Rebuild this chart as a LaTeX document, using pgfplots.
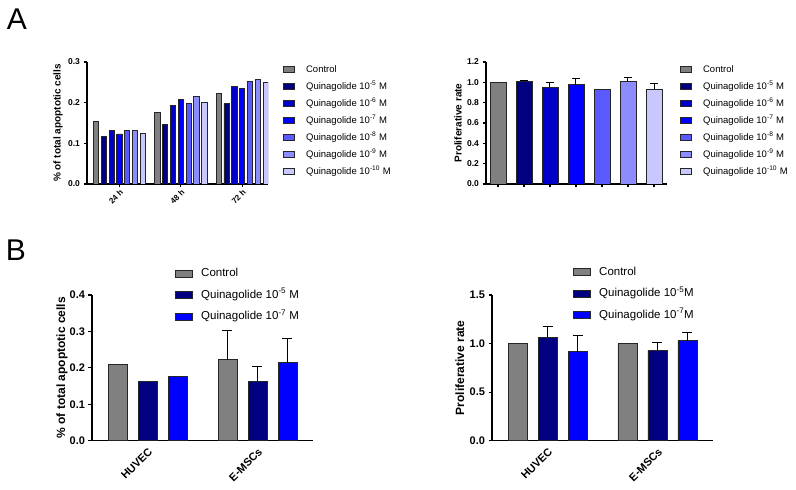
\documentclass[border=0pt]{standalone}
\usepackage{fontspec}
\setmainfont{Liberation Sans}
\usepackage{pgfplots}
\pgfplotsset{compat=1.18}

\definecolor{cctrl}{HTML}{808080}
\definecolor{cq5}{HTML}{000080}
\definecolor{cq6}{HTML}{0000C8}
\definecolor{cq7}{HTML}{0000FF}
\definecolor{cq8}{HTML}{5A5AFF}
\definecolor{cq9}{HTML}{8C8CFF}
\definecolor{cq10}{HTML}{C8C8FF}
\definecolor{edge}{HTML}{262626}

\pgfplotsset{
  /pgf/number format/assume math mode=true,
  prism/.style={
    scale only axis, anchor=south west,
    axis x line*=bottom, axis y line*=left,
    axis line style={line width=1.2pt, black},
    tick style={line width=1.1pt, black},
    major tick length=3.5pt, tick align=outside,
    enlargelimits=false, ymin=0,
    legend cell align=left,
    legend image code/.code={\draw[##1,/tikz/.cd] (0pt,-3pt) rectangle (11pt,3pt);},
    legend style={draw=none, fill=none, anchor=north west, inner sep=0pt},
  },
  pbar/.style={ybar, draw=edge, line width=0.9pt, fill=#1},
  eb/.style={error bars/y dir=plus, error bars/y explicit,
    error bars/error bar style={line width=1pt, black},
    error bars/error mark options={rotate=90, line width=1pt, mark size=#1, black}},
  smallA/.style={
    width=181pt, height=122pt,
    y tick label style={font=\bfseries\fontsize{8.5}{10}\selectfont, /pgf/number format/.cd, fixed, fixed zerofill, precision=1},
    ylabel style={font=\bfseries\fontsize{10}{12}\selectfont, anchor=center},
    legend style={font=\fontsize{9.5}{11}\selectfont, row sep=8pt, column sep=11pt,
      nodes={inner sep=0pt, text height=7pt, text depth=2pt}},
  },
  bigB/.style={
    width=221pt, height=145.7pt,
    xmin=-0.505, xmax=1.505, xtick={0,1}, xticklabels={HUVEC,E-MSCs},
    x tick style={draw=none},
    x tick label style={rotate=45, anchor=north east, font=\bfseries\fontsize{11}{12}\selectfont, inner sep=2pt},
    y tick label style={font=\bfseries\fontsize{11}{12}\selectfont, /pgf/number format/.cd, fixed, fixed zerofill, precision=1},
    ylabel style={font=\bfseries\fontsize{12}{14}\selectfont, anchor=center},
    legend style={font=\fontsize{11.5}{13}\selectfont, row sep=9.5pt, column sep=8pt,
      nodes={inner sep=0pt, text height=9pt, text depth=3pt}},
    legend image code/.code={\draw[##1,/tikz/.cd] (0pt,-3.5pt) rectangle (17pt,3.5pt);},
    every axis plot/.append style={bar width=19pt, bar shift=0pt},
  },
}

\begin{document}
\begin{tikzpicture}
\useasboundingbox (0pt,0pt) rectangle (796pt,490pt);

\node[font=\fontsize{30}{30}\selectfont] at (17pt,471pt) {A};
\node[font=\fontsize{30}{30}\selectfont] at (16pt,240pt) {B};

% A, apoptosis over time
\begin{axis}[prism, smallA, at={(87pt,306pt)},
    xmin=-0.53, xmax=2.42, ymax=0.3,
    xtick={0,1,2}, xticklabels={24 h,48 h,72 h},
    x tick label style={rotate=45, anchor=north east, font=\bfseries\fontsize{8}{9}\selectfont, inner sep=1pt},
    ytick={0,0.1,0.2,0.3},
    ylabel={\% of total apoptotic cells},
    ylabel style={at={(axis description cs:-0.16,0.5)}},
    legend style={at={(axis description cs:1.083,0.975)}},
    every axis plot/.append style={bar width=5.2pt}]
\addplot[pbar=cctrl, bar shift=-23.5pt] coordinates {(0,0.154) (1,0.176) (2,0.223)};
\addplot[pbar=cq5, bar shift=-15.66pt] coordinates {(0,0.117) (1,0.147) (2,0.198)};
\addplot[pbar=cq6, bar shift=-7.83pt] coordinates {(0,0.131) (1,0.194) (2,0.240)};
\addplot[pbar=cq7, bar shift=0pt] coordinates {(0,0.123) (1,0.208) (2,0.236)};
\addplot[pbar=cq8, bar shift=7.83pt] coordinates {(0,0.131) (1,0.197) (2,0.252)};
\addplot[pbar=cq9, bar shift=15.66pt] coordinates {(0,0.131) (1,0.215) (2,0.257)};
\addplot[pbar=cq10, bar shift=23.5pt] coordinates {(0,0.124) (1,0.201) (2,0.250)};
\legend{Control, Quinagolide 10\textsuperscript{-5} M, Quinagolide 10\textsuperscript{-6} M,
  Quinagolide 10\textsuperscript{-7} M, Quinagolide 10\textsuperscript{-8} M,
  Quinagolide 10\textsuperscript{-9} M, Quinagolide 10\textsuperscript{-10} M}
\end{axis}

% A, proliferation
\begin{axis}[prism, smallA, at={(486pt,306pt)},
    xmin=-0.46, xmax=6.5, ymax=1.2,
    xtick={0,1,2,3,4,5,6}, xticklabels={},
    ytick={0,0.2,0.4,0.6,0.8,1.0,1.2},
    ylabel={Proliferative rate},
    ylabel style={at={(axis description cs:-0.155,0.5)}},
    legend style={at={(axis description cs:1.072,0.975)}},
    every axis plot/.append style={bar width=16pt, bar shift=0pt}]
\addplot[pbar=cctrl] coordinates {(0,1.0)};
\addplot[pbar=cq5, eb=4pt] coordinates {(1,1.007) +- (0,0.013)};
\addplot[pbar=cq6, eb=4pt] coordinates {(2,0.951) +- (0,0.052)};
\addplot[pbar=cq7, eb=4pt] coordinates {(3,0.977) +- (0,0.062)};
\addplot[pbar=cq8] coordinates {(4,0.934)};
\addplot[pbar=cq9, eb=4pt] coordinates {(5,1.010) +- (0,0.036)};
\addplot[pbar=cq10, eb=4pt] coordinates {(6,0.934) +- (0,0.056)};
\legend{Control, Quinagolide 10\textsuperscript{-5} M, Quinagolide 10\textsuperscript{-6} M,
  Quinagolide 10\textsuperscript{-7} M, Quinagolide 10\textsuperscript{-8} M,
  Quinagolide 10\textsuperscript{-9} M, Quinagolide 10\textsuperscript{-10} M}
\end{axis}

% B, apoptosis by cell type (bars placed at their own x: group +- 30pt)
\begin{axis}[prism, bigB, at={(92pt,49.3pt)},
    ymax=0.4, ytick={0,0.1,0.2,0.3,0.4},
    ylabel={\% of total apoptotic cells},
    ylabel style={at={(axis description cs:-0.136,0.5)}},
    legend style={at={(axis description cs:0.376,1.19)}}]
\addplot[pbar=cctrl] coordinates {(-0.2727,0.210)};
\addplot[pbar=cq5] coordinates {(0,0.164)};
\addplot[pbar=cq7] coordinates {(0.2727,0.177)};
\addplot[forget plot, pbar=cctrl, eb=5pt] coordinates {(0.7273,0.222) +- (0,0.080)};
\addplot[forget plot, pbar=cq5, eb=5pt] coordinates {(1,0.164) +- (0,0.041)};
\addplot[forget plot, pbar=cq7, eb=5pt] coordinates {(1.2727,0.214) +- (0,0.066)};
\legend{Control, Quinagolide 10\textsuperscript{-5} M, Quinagolide 10\textsuperscript{-7} M}
\end{axis}

% B, proliferation by cell type
\begin{axis}[prism, bigB, at={(492pt,49.3pt)},
    ymax=1.5, ytick={0,0.5,1.0,1.5},
    ylabel={Proliferative rate},
    ylabel style={at={(axis description cs:-0.145,0.5)}},
    legend style={at={(axis description cs:0.367,1.20)}}]
\addplot[pbar=cctrl] coordinates {(-0.2727,1.0) (0.7273,1.0)};
\addplot[pbar=cq5, eb=5pt] coordinates {(0,1.064) +- (0,0.116) (1,0.930) +- (0,0.083)};
\addplot[pbar=cq7, eb=5pt] coordinates {(0.2727,0.917) +- (0,0.161) (1.2727,1.030) +- (0,0.086)};
\legend{Control, Quinagolide 10\textsuperscript{-5}M, Quinagolide 10\textsuperscript{-7}M}
\end{axis}
\end{tikzpicture}
\end{document}
